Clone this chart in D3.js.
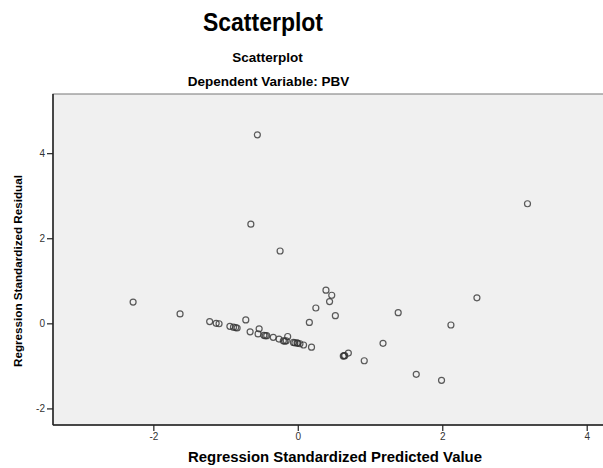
<!DOCTYPE html>
<html>
<head>
<meta charset="utf-8">
<script src="https://cdn.jsdelivr.net/npm/d3@7"></script>
<style>
  body { margin: 0; background: #fff; }
  text { font-family: "Liberation Sans", Arial, sans-serif; }
  .tick text { fill: #333; font-size: 10px; }
  .tick line { stroke: #333; stroke-width: 1.3; }
</style>
</head>
<body>
<div class="container"></div>
<script>
const WIDTH = 603;
const HEIGHT = 468;

// standardized predicted value (x) and standardized residual (y)
var predicted = [-2.28, -1.63, -1.22, -1.13, -1.09, -0.94, -0.89, -0.86, -0.84, -0.72,
  -0.66, -0.535, -0.55, -0.47, -0.45, -0.43, -0.34, -0.26, -0.14, -0.20,
  -0.18, -0.16, -0.06, -0.04, -0.01, 0.0, 0.03, 0.08, 0.19, 0.16,
  0.25, 0.39, 0.47, 0.44, 0.52, 0.64, 0.65, 0.63, 0.70, 0.92,
  1.18, 1.39, 1.64, 1.99, 2.12, 2.48, 3.18, -0.56, -0.65, -0.245];
var residual = [0.50, 0.22, 0.04, 0.00, -0.01, -0.07, -0.09, -0.10, -0.11, 0.08,
  -0.20, -0.13, -0.25, -0.28, -0.29, -0.29, -0.33, -0.37, -0.31, -0.41,
  -0.42, -0.41, -0.45, -0.46, -0.46, -0.47, -0.48, -0.51, -0.56, 0.02,
  0.36, 0.78, 0.66, 0.51, 0.18, -0.76, -0.76, -0.77, -0.70, -0.88,
  -0.47, 0.25, -1.20, -1.34, -0.04, 0.60, 2.81, 4.43, 2.33, 1.70];
var xTicks = [-2, 0, 2, 4];
var yTicks = [-2, 0, 2, 4];

var plot = {left: 53, right: 612, top: 94, bottom: 425};

var translate = function(x, y){
  return "translate(" + x + "," + y + ")";
};

var svg = d3.select('.container').append('svg')
    .attr('width', WIDTH)
    .attr('height', HEIGHT);

var xScale = d3.scaleLinear()
    .domain([-3.389, 4.35])
    .range([plot.left, plot.right]);

var yScale = d3.scaleLinear()
    .domain([-2.39, 5.39])
    .range([plot.bottom, plot.top]);

// titles
svg.append('text')
    .attr('x', 263).attr('y', 31)
    .attr('text-anchor', 'middle')
    .attr('font-weight', 'bold')
    .attr('font-size', 25)
    .attr('textLength', 120)
    .attr('lengthAdjust', 'spacingAndGlyphs')
    .text('Scatterplot');

svg.append('text')
    .attr('x', 267.5).attr('y', 62)
    .attr('text-anchor', 'middle')
    .attr('font-weight', 'bold')
    .attr('font-size', 13.5)
    .text('Scatterplot');

svg.append('text')
    .attr('x', 268.5).attr('y', 86)
    .attr('text-anchor', 'middle')
    .attr('font-weight', 'bold')
    .attr('font-size', 13.5)
    .text('Dependent Variable: PBV');

// plot background
svg.append('rect')
    .attr('x', plot.left).attr('y', plot.top)
    .attr('width', plot.right - plot.left)
    .attr('height', plot.bottom - plot.top)
    .attr('fill', '#f0f0f0')
    .attr('stroke', '#777')
    .attr('stroke-width', 1);

var fmt = function(d){ return String(d); };
var xAxis = d3.axisBottom(xScale).tickValues(xTicks).tickFormat(fmt).tickSize(6).tickPadding(2);
var yAxis = d3.axisLeft(yScale).tickValues(yTicks).tickFormat(fmt).tickSize(6).tickPadding(2);

var gx = svg.append('g')
    .attr('transform', translate(0, plot.bottom))
    .call(xAxis);
gx.select('.domain').remove();

var gy = svg.append('g')
    .attr('transform', translate(plot.left, 0))
    .call(yAxis);
gy.select('.domain').remove();

// dark left and bottom axis lines
svg.append('line')
    .attr('x1', plot.left).attr('x2', plot.left)
    .attr('y1', plot.top).attr('y2', plot.bottom)
    .attr('stroke', '#222').attr('stroke-width', 1.5);
svg.append('line')
    .attr('x1', plot.left).attr('x2', plot.right)
    .attr('y1', plot.bottom).attr('y2', plot.bottom)
    .attr('stroke', '#222').attr('stroke-width', 1.5);

// points
svg.append('g').selectAll('circle')
    .data(predicted)
    .enter().append('circle')
    .attr('cx', function(d){ return xScale(d); })
    .attr('cy', function(d, i){ return yScale(residual[i]); })
    .attr('r', 3)
    .attr('fill', 'none')
    .attr('stroke', '#333')
    .attr('stroke-opacity', 0.8)
    .attr('stroke-width', 1.2);

// axis titles
svg.append('text')
    .attr('x', 335).attr('y', 462)
    .attr('text-anchor', 'middle')
    .attr('font-weight', 'bold')
    .attr('font-size', 14)
    .attr('textLength', 294)
    .attr('lengthAdjust', 'spacingAndGlyphs')
    .text('Regression Standardized Predicted Value');

svg.append('text')
    .attr('transform', translate(22, 271) + ' rotate(-90)')
    .attr('text-anchor', 'middle')
    .attr('font-weight', 'bold')
    .attr('font-size', 11.5)
    .attr('textLength', 192)
    .attr('lengthAdjust', 'spacingAndGlyphs')
    .text('Regression Standardized Residual');
</script>
</body>
</html>
